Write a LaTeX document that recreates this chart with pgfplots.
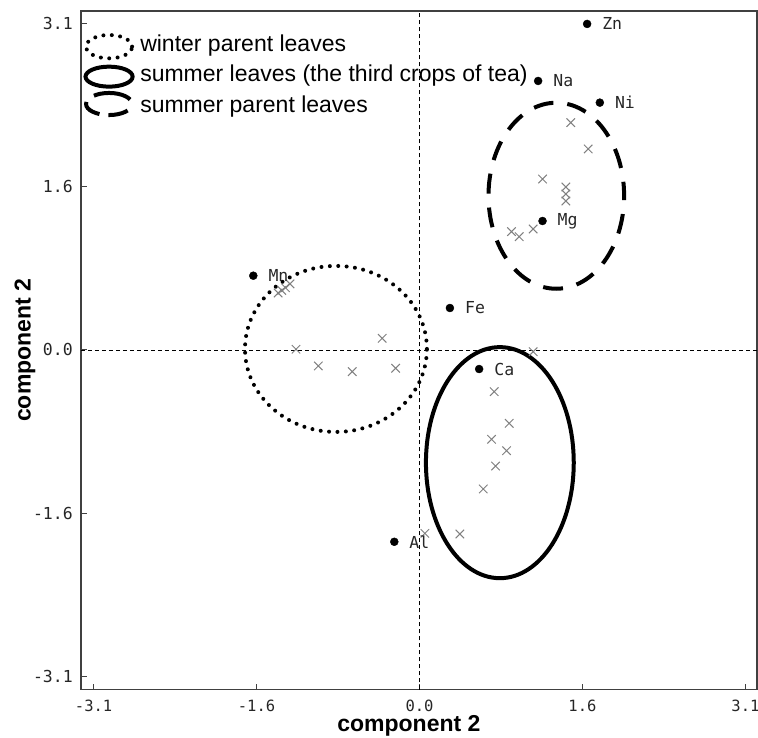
\documentclass[border=0pt]{standalone}
\usepackage{pgfplots}
\pgfplotsset{compat=1.18}
\usepackage{pgfplotstable}
\usepackage{fontspec}
\setmainfont{Liberation Sans}
\newfontfamily\monofont{DejaVu Sans Mono}
\newcommand{\tickfont}{\monofont\fontsize{15.5bp}{18bp}\selectfont}
\newcommand{\labfont}{\monofont\fontsize{16.5bp}{19bp}\selectfont}
\newcommand{\legfont}{\fontsize{23bp}{26bp}\selectfont}

\pgfplotstableread{
x y label
1.594 3.099 Zn
1.128 2.557 Na
1.715 2.351 Ni
1.170 1.226 Mg
-1.581 0.706 Mn
0.289 0.399 Fe
0.567 -0.181 Ca
-0.240 -1.823 Al
}\elements

\pgfplotstableread{
x y
-1.345 0.542
-1.310 0.566
-1.275 0.592
-1.232 0.628
-1.175 0.007
-0.963 -0.152
-0.640 -0.206
-0.355 0.111
-0.227 -0.174
}\winter

\pgfplotstableread{
x y
1.081 -0.016
0.710 -0.396
0.853 -0.697
0.685 -0.849
0.828 -0.957
0.723 -1.103
0.606 -1.321
0.384 -1.749
0.051 -1.743
}\summerthird

\pgfplotstableread{
x y
1.439 2.161
1.604 1.911
1.170 1.625
1.392 1.549
1.392 1.483
1.392 1.416
0.875 1.125
0.948 1.077
1.081 1.150
}\summerparent

\begin{document}
\begin{tikzpicture}
\begin{axis}[
  at={(0,0)}, anchor=south west,
  scale only axis,
  width=676bp, height=678.5bp,
  xmin=-3.22, xmax=3.21,
  ymin=-3.227, ymax=3.222,
  xtick={-3.1,-1.55,0,1.55,3.1},
  xticklabels={-3.1,-1.6,0.0,1.6,3.1},
  ytick={-3.1,-1.55,0,1.55,3.1},
  yticklabels={-3.1,-1.6,0.0,1.6,3.1},
  tick pos=left,
  tick align=inside,
  major tick length=5.5bp,
  tick style={black!75, line width=1bp},
  axis line style={black!75, line width=1.5bp},
  xticklabel style={font=\tickfont, text=black!85, anchor=base, yshift=-21.5bp, inner sep=0pt},
  yticklabel style={font=\labfont, text=black!85, anchor=east, xshift=-8bp, inner sep=0pt},
  xlabel={component 2},
  ylabel={component 2},
  every axis x label/.style={at={(axis description cs:0.485,-0.0626)}, anchor=base, inner sep=0pt, font=\bfseries\fontsize{23bp}{26bp}\selectfont},
  every axis y label/.style={at={(axis description cs:-0.0828,0.5)}, anchor=center, rotate=90, font=\bfseries\fontsize{23bp}{26bp}\selectfont},
  clip=false,
]
% zero lines
\draw[black, line width=0.8bp, dash pattern=on 4bp off 3bp] (axis cs:0,-3.227) -- (axis cs:0,3.222);
\draw[black, line width=0.8bp, dash pattern=on 4bp off 3bp] (axis cs:-3.22,0) -- (axis cs:3.21,0);

% group ellipses
\draw[black, line width=4bp, line cap=round, dash pattern=on 0bp off 8.4bp] (axis cs:-0.795,0.010) ellipse [x radius=0.865, y radius=0.789];
\draw[black, line width=4bp] (axis cs:0.764,-1.071) ellipse [x radius=0.703, y radius=1.098];
\draw[black, line width=4bp, dash pattern=on 20bp off 14bp, dash phase=6bp] (axis cs:1.301,1.466) ellipse [x radius=0.645, y radius=0.884];

% samples
\addplot[only marks, mark=x, mark size=6bp, gray, mark options={line width=1bp}] table[x=x,y=y] {\winter};
\addplot[only marks, mark=x, mark size=6bp, gray, mark options={line width=1bp}] table[x=x,y=y] {\summerthird};
\addplot[only marks, mark=x, mark size=6bp, gray, mark options={line width=1bp}] table[x=x,y=y] {\summerparent};

% elements
\addplot[only marks, mark=*, mark size=4bp, black,
  nodes near coords, point meta=explicit symbolic,
  nodes near coords style={anchor=west, xshift=15bp, inner sep=0pt, font=\labfont, text=black!85}]
  table[x=x,y=y,meta=label] {\elements};

% legend
\draw[black, line width=4bp, line cap=round, dash pattern=on 0bp off 8.4bp] (axis cs:-2.953,2.883) ellipse [x radius=0.219, y radius=0.111];
\draw[black, line width=4bp] (axis cs:-2.953,2.598) ellipse [x radius=0.224, y radius=0.095];
\draw[black, line width=4bp, dash pattern=on 0bp off 5bp on 38bp off 10bp on 20bp off 9bp on 20bp off 8bp] (axis cs:-2.953,2.338) ellipse [x radius=0.219, y radius=0.105];
\node[anchor=base west, inner sep=0pt, font=\legfont] at (axis cs:-2.658,2.836) {winter parent leaves};
\node[anchor=base west, inner sep=0pt, font=\legfont] at (axis cs:-2.658,2.550) {summer leaves (the third crops of tea)};
\node[anchor=base west, inner sep=0pt, font=\legfont] at (axis cs:-2.658,2.259) {summer parent leaves};
\end{axis}
\pgfresetboundingbox
\useasboundingbox (-81bp,-48.5bp) rectangle (677bp,689.5bp);
\end{tikzpicture}
\end{document}
